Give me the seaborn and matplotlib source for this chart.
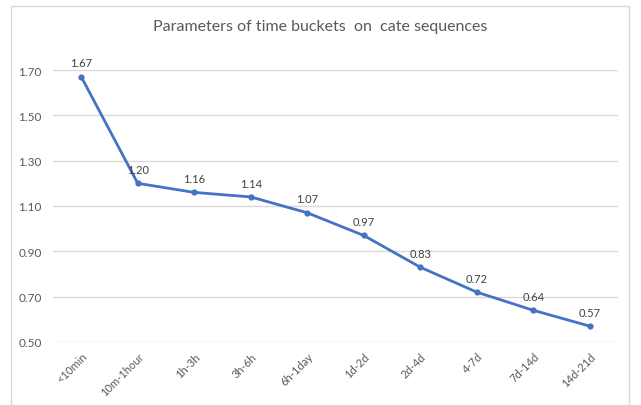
import matplotlib
matplotlib.use("Agg")
import matplotlib.pyplot as plt
import seaborn as sns
import pandas as pd
from matplotlib.patches import Rectangle

categories = ["<10min", "10m-1hour", "1h-3h", "3h-6h", "6h-1day", "1d-2d", "2d-4d", "4-7d", "7d-14d", "14d-21d"]
values = [1.67, 1.20, 1.16, 1.14, 1.07, 0.97, 0.83, 0.72, 0.64, 0.57]
yticks = [0.50, 0.70, 0.90, 1.10, 1.30, 1.50, 1.70]

sns.set_theme(style="white")
plt.rcParams['font.family'] = ['Lato', 'DejaVu Sans']

df = pd.DataFrame({"bucket": categories, "value": values})

fig = plt.figure(figsize=(6.41, 4.06), dpi=100)
fig.patches.append(Rectangle((11/641, -0.05), 618/641, 1 - 7/406 + 0.05, transform=fig.transFigure,
                             fill=False, edgecolor="#d9d9d9", linewidth=1))
ax = fig.add_axes([53/641, 1 - 343/406, 565/641, 272/406])

x = list(range(len(categories)))
sns.lineplot(x=x, y=df["value"], ax=ax, color="#4472C4", linewidth=2, marker="o",
             markersize=4.5, markeredgewidth=0)

for xi, v in zip(x, values):
    ax.annotate(f"{v:.2f}", (xi, v), xytext=(0, 6), textcoords="offset points",
                ha="center", va="bottom", fontsize=8, color="#404040")

ax.set_xlim(-0.5, len(categories) - 0.5)
ax.set_ylim(0.5, 1.7)
ax.set_yticks(yticks)
ax.set_yticklabels([f"{t:.2f}" for t in yticks], fontsize=8.5, color="#595959")
ax.set_xticks(x)
ax.set_xticklabels(categories, rotation=45, ha="right", rotation_mode="anchor",
                   fontsize=8, color="#595959")
ax.tick_params(axis="both", length=0, pad=8)
ax.tick_params(axis="x", pad=6)
ax.grid(axis="y", color="#d9d9d9", linewidth=1)
for s in ax.spines.values():
    s.set_visible(False)
ax.set_xlabel("")
ax.set_ylabel("")

fig.text(320/641, 1 - 27/406, "Parameters of time buckets  on  cate sequences", ha="center", va="center",
         fontsize=11.5, color="#595959")

fig.savefig("out.png", dpi=100)
